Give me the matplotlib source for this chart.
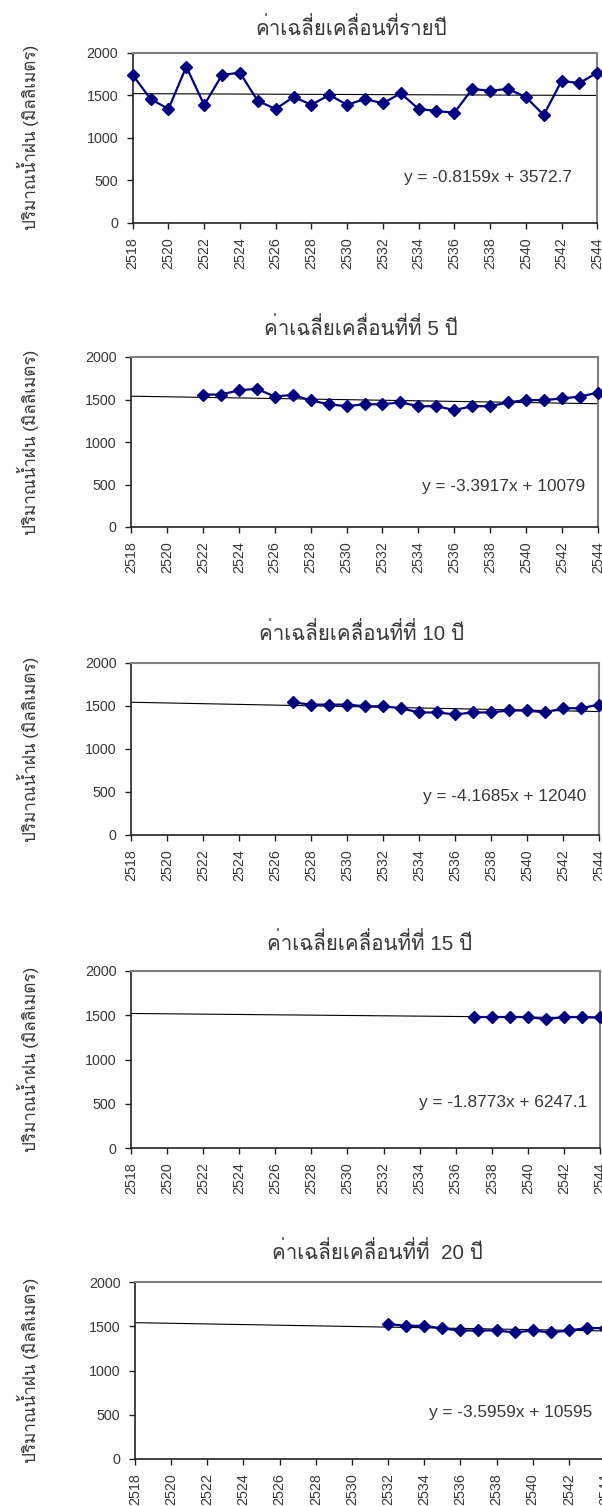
import numpy as np
import matplotlib
matplotlib.use('Agg')
import matplotlib.pyplot as plt
from matplotlib import font_manager as fm
from matplotlib.ft2font import FT2Font

# pick any installed font that has Thai glyphs, used as fallback after Liberation Sans
thai_font = None
for f in fm.fontManager.ttflist:
    try:
        if 0x0E04 in FT2Font(f.fname).get_charmap():
            thai_font = f.name
            break
    except Exception:
        pass
fams = ['Liberation Sans']
if thai_font:
    fams.append(thai_font)
fams.append('DejaVu Sans')
plt.rcParams['font.family'] = fams

# data (rainfall, mm)
years_annual = list(range(2518, 2545))
annual = [1738, 1455, 1338, 1835, 1385, 1738, 1765, 1432, 1338, 1479, 1388, 1502, 1388,
          1455, 1405, 1522, 1338, 1314, 1294, 1573, 1553, 1573, 1479, 1267, 1667, 1643, 1765]

years_ma5 = list(range(2522, 2545))
ma5 = [1558, 1558, 1607, 1626, 1535, 1554, 1490, 1444, 1421, 1444, 1444, 1467,
       1421, 1421, 1376, 1421, 1421, 1467, 1493, 1493, 1512, 1535, 1581]

years_ma10 = list(range(2527, 2545))
ma10 = [1542, 1516, 1516, 1516, 1497, 1497, 1474, 1425, 1425, 1402, 1425, 1425,
        1448, 1448, 1425, 1474, 1474, 1516]

years_ma15 = list(range(2537, 2545))
ma15 = [1480, 1480, 1480, 1480, 1455, 1480, 1480, 1475]

years_ma20 = list(range(2532, 2545))
ma20 = [1525, 1505, 1505, 1475, 1452, 1452, 1452, 1430, 1452, 1430, 1452, 1480, 1478]

titles = ['ค่าเฉลี่ยเคลื่อนที่รายปี',
          'ค่าเฉลี่ยเคลื่อนที่ที่ 5 ปี',
          'ค่าเฉลี่ยเคลื่อนที่ที่ 10 ปี',
          'ค่าเฉลี่ยเคลื่อนที่ที่ 15 ปี',
          'ค่าเฉลี่ยเคลื่อนที่ที่  20 ปี']
ylabel = 'ปริมาณน้ำฝน (มิลลิเมตร)'

slopes = [-0.8159, -3.3917, -4.1685, -1.8773, -3.5959]
intercepts = [3572.7, 10079, 12040, 6247.1, 10595]

series_x = [years_annual, years_ma5, years_ma10, years_ma15, years_ma20]
series_y = [annual, ma5, ma10, ma15, ma20]

# layout in pixels (left, top, right, bottom) of each plot area
W, H = 602, 1506
boxes = [(132.7, 52.7, 597.3, 222.7),
         (131, 357, 598, 527),
         (131, 663, 599, 835),
         (131, 971, 600, 1148),
         (135, 1282, 605, 1459)]
title_pos = [(351, 28), (361, 328), (362, 633), (370, 943), (377, 1252)]
eq_pos = [(2542.6, 526), (2543.3, 480), (2543.3, 450), (2543.3, 511), (2543.3, 520)]

txt = '#383838'
fig = plt.figure(figsize=(W / 100, H / 100), dpi=100)

for i in range(5):
    l, t, r, b = boxes[i]
    ax = fig.add_axes([l / W, 1 - b / H, (r - l) / W, (b - t) / H])
    ax.plot(series_x[i], series_y[i], color='#000080', lw=1.6, marker='D',
            markersize=6.3, zorder=3, clip_on=False)
    xt = np.array([2518, 2544])
    ax.plot(xt, slopes[i] * xt + intercepts[i], color='black', lw=0.8, zorder=2)
    ax.set_xlim(2518, 2544)
    ax.set_ylim(0, 2000)
    ax.set_xticks(range(2518, 2545, 2))
    ax.set_yticks(range(0, 2001, 500))
    ax.tick_params(axis='both', direction='out', length=4.5, width=1, pad=6,
                   labelsize=10.3, labelcolor=txt, color='#222222')
    ax.tick_params(axis='x', labelrotation=90)
    for s in ['top', 'right']:
        ax.spines[s].set_color('#808080')
        ax.spines[s].set_linewidth(1.5)
    for s in ['left', 'bottom']:
        ax.spines[s].set_color('#222222')
        ax.spines[s].set_linewidth(1.2)

    eq = 'y = %sx + %s' % (slopes[i], '%g' % intercepts[i])
    ax.text(eq_pos[i][0], eq_pos[i][1], eq, ha='right', va='center',
            fontsize=12.4, color=txt)

    tx, ty = title_pos[i]
    fig.text(tx / W, 1 - ty / H, titles[i], ha='center', va='center',
             fontsize=14.8, color=txt)
    fig.text(28 / W, 1 - (t + b) / 2 / H, ylabel, rotation=90, ha='center',
             va='center', fontsize=12.3, color=txt)

plt.savefig('out.png', dpi=100)
